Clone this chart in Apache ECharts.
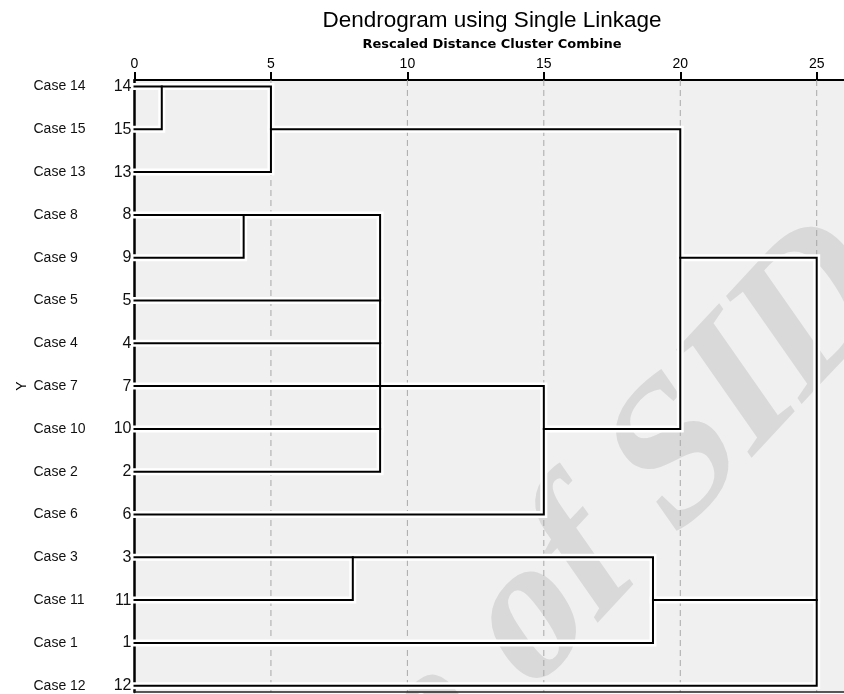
<!DOCTYPE html>
<html>
<head>
<meta charset="utf-8">
<title>Dendrogram</title>
<script src="https://cdn.jsdelivr.net/npm/echarts@6/dist/echarts.min.js"></script>
<style>
  html, body { margin: 0; padding: 0; background: #fff; }
  #dendro { width: 844px; height: 694px; }
</style>
</head>
<body>
<div id="dendro"></div>
<script>
// leaves, top to bottom as they sit on the chart
var caseLabels = ['Case 14', 'Case 15', 'Case 13', 'Case 8', 'Case 9', 'Case 5', 'Case 4', 'Case 7',
                  'Case 10', 'Case 2', 'Case 6', 'Case 3', 'Case 11', 'Case 1', 'Case 12'];
var caseIds = [14, 15, 13, 8, 9, 5, 4, 7, 10, 2, 6, 3, 11, 1, 12];

// merges in order. node ids: 0..14 = leaves (row index), 15.. = merge k
var mergeDistance = [1, 5, 4, 9, 15, 20, 8, 19, 25];
var mergeChildren = [[0, 1], [15, 2], [3, 4], [17, 5, 6, 7, 8, 9], [18, 10], [16, 19], [11, 12], [21, 13], [20, 22, 14]];
var mergeRow = [0, 1, 3, 7, 8, 4, 11, 12, 7];   // row the new cluster line leaves from

var xTicks = [0, 5, 10, 15, 20, 25];

var yMin = -0.152, yMax = 14.147;

function buildLinks(){
    var nodeRow = [], nodeStart = [];
    for(var i = 0; i < caseLabels.length; i++){
        nodeRow.push(i);
        nodeStart.push(0);
    }
    var links = [];
    for(var m = 0; m < mergeDistance.length; m++){
        var h = mergeDistance[m];
        var kids = mergeChildren[m].slice().sort(function(a, b){ return nodeRow[a] - nodeRow[b]; });
        var first = kids[0], last = kids[kids.length - 1];
        // the bracket: top child -> vertical -> bottom child
        links.push({coords: [[nodeStart[first], nodeRow[first]], [h, nodeRow[first]],
                             [h, nodeRow[last]], [nodeStart[last], nodeRow[last]]]});
        for(var k = 1; k < kids.length - 1; k++){
            links.push({coords: [[nodeStart[kids[k]], nodeRow[kids[k]]], [h, nodeRow[kids[k]]]]});
        }
        nodeRow.push(mergeRow[m]);
        nodeStart.push(h);
    }
    return links;
}

function drawDendro(){
    var myChart = echarts.init(document.getElementById('dendro'));
    var links = buildLinks();
    var gridData = [];
    for(var i in xTicks){
        if(xTicks[i] > 0){
            gridData.push({coords: [[xTicks[i], yMin], [xTicks[i], yMax]]});
        }
    }
    var rows = caseLabels.map(function(d, i){ return i; });
    var ang = 47 * Math.PI / 180;
    var wmStyle = { fill: '#d9d9d9', fontFamily: 'Liberation Serif',
                    fontWeight: 'bold', fontSize: 197, textVerticalAlign: 'middle' };

    var option = {
        animation: false,
        textStyle: { fontFamily: 'Liberation Sans, Arial, sans-serif' },
        title: {
            text: 'Dendrogram using Single Linkage',
            subtext: 'Rescaled Distance Cluster Combine',
            left: 487,
            top: 4,
            textAlign: 'center',
            itemGap: 6,
            textStyle: { fontSize: 22.5, fontWeight: 'normal', color: '#000' },
            subtextStyle: { fontSize: 13, fontWeight: 'bold', color: '#000', fontFamily: 'DejaVu Sans' }
        },
        grid: {
            left: 134.5, right: 0, top: 80, bottom: 2,
            show: true, backgroundColor: '#f0f0f0', borderWidth: 0
        },
        graphic: [
            // faint watermark of the source page (slanted by hand, no italic face here)
            { type: 'text', x: 497, y: 656, rotation: ang, skewX: -0.21, z: 1, silent: true,
              style: echarts.util.extend({ text: 'of SID', textAlign: 'left' }, wmStyle) },
            { type: 'text', x: 497 - 49 * Math.cos(ang), y: 656 + 49 * Math.sin(ang), rotation: ang, skewX: -0.21, z: 1, silent: true,
              style: echarts.util.extend({ text: 'Archive', textAlign: 'right' }, wmStyle) }
        ],
        xAxis: [{
            type: 'value',
            position: 'top',
            min: 0, max: 26, interval: 5,
            axisLine: { show: true, onZero: false, lineStyle: { color: '#000', width: 2 } },
            axisTick: { show: true, length: 8, lineStyle: { color: '#000', width: 2 } },
            axisLabel: { fontSize: 14, color: '#000', margin: 9, showMaxLabel: false },
            splitLine: { show: false }
        }, {
            // bottom frame line
            type: 'value',
            position: 'bottom',
            min: 0, max: 26,
            z: 5,
            axisLine: { show: true, onZero: false, lineStyle: { color: '#222', width: 1.5 } },
            axisTick: { show: false },
            axisLabel: { show: false },
            splitLine: { show: false }
        }],
        yAxis: {
            type: 'value',
            inverse: true,
            min: yMin, max: yMax,
            name: 'Y',
            nameLocation: 'middle',
            nameRotate: 90,
            nameGap: 105,
            nameMoveOverlap: false,
            nameTextStyle: { fontSize: 14, color: '#000' },
            axisLine: { show: true, onZero: false, lineStyle: { color: '#000', width: 2.5 } },
            axisTick: { show: false },
            splitLine: { show: false },
            axisLabel: {
                customValues: rows,
                margin: 3,
                formatter: function(v){
                    var i = Math.round(v);
                    return '{a|' + caseLabels[i] + '}{b|' + caseIds[i] + '}';
                },
                rich: {
                    a: { fontSize: 14, color: '#111', width: 74, align: 'left' },
                    b: { fontSize: 16, color: '#111', width: 24, align: 'right' }
                }
            }
        },
        series: [
            {
                // dashed reference lines
                type: 'lines', coordinateSystem: 'cartesian2d', polyline: true, silent: true, z: 2,
                lineStyle: { color: '#a8a8a8', width: 1, type: [6, 4], opacity: 1 },
                data: gridData
            },
            {
                // white halo under the tree
                type: 'lines', coordinateSystem: 'cartesian2d', polyline: true, silent: true, z: 3,
                lineStyle: { color: '#fff', width: 7, opacity: 1, cap: 'square', join: 'miter' },
                data: links
            },
            {
                type: 'lines', coordinateSystem: 'cartesian2d', polyline: true, silent: true, z: 4,
                lineStyle: { color: '#000', width: 2, opacity: 1, cap: 'square', join: 'miter' },
                data: links
            }
        ]
    };
    myChart.setOption(option);
}

drawDendro();
</script>
</body>
</html>
